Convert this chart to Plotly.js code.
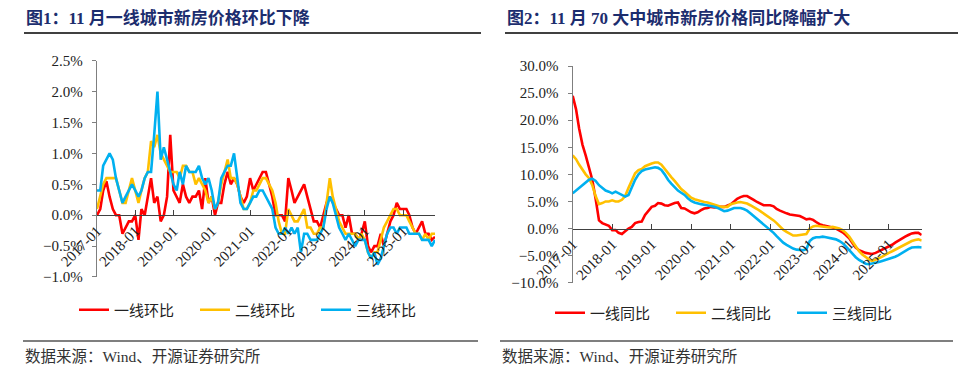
<!DOCTYPE html>
<html>
<head>
<meta charset="utf-8">
<script src="https://cdn.plot.ly/plotly-3.0.1.min.js"></script>
<style>html,body{margin:0;padding:0;background:#fff;}#chart{width:969px;height:387px;}</style>
</head>
<body>
<div id="chart"></div>
<script>
// ---------- data ----------
const startYear = 2017;
const nMonths = 107; // 2017-01 .. 2025-11
const yearTickVals = ['2017-01-01','2018-01-01','2019-01-01','2020-01-01','2021-01-01','2022-01-01','2023-01-01','2024-01-01','2025-01-01'];
const yearTickText = ['2017-01','2018-01','2019-01','2020-01','2021-01','2022-01','2023-01','2024-01','2025-01'];

const seriesNamesMoM = ['一线环比','二线环比','三线环比'];
const seriesNamesYoY = ['一线同比','二线同比','三线同比'];

// month-on-month, %
const tier1MoM = [0.0,0.1,0.4,0.55,0.3,0.1,0.0,0.0,-0.3,-0.2,
  -0.1,-0.1,0.0,-0.4,0.1,0.0,0.3,0.6,0.2,0.3,
  -0.1,0.0,0.3,1.3,0.4,0.3,0.2,0.5,0.3,0.2,
  0.3,0.3,0.4,0.1,0.6,0.2,0.3,0.0,0.2,0.2,
  0.5,0.7,0.5,0.6,0.5,0.3,0.2,0.3,0.6,0.4,
  0.5,0.6,0.7,0.7,0.5,0.3,0.0,0.0,0.0,-0.1,
  0.6,0.4,0.2,0.3,0.4,0.5,0.3,0.1,-0.1,-0.1,
  -0.2,0.0,0.2,0.3,0.2,0.1,0.0,0.0,-0.2,0.0,
  -0.3,-0.3,-0.4,-0.3,-0.1,-0.5,-0.6,-0.5,-0.5,-0.3,
  -0.5,-0.3,-0.1,0.0,0.2,0.1,0.1,0.1,0.0,-0.2,
  -0.3,-0.2,-0.1,-0.3,-0.3,-0.4,-0.35];
const tier2MoM = [0.1,0.3,0.5,0.6,0.6,0.6,0.6,0.4,0.2,0.2,
  0.4,0.6,0.4,0.2,0.4,0.6,0.7,1.2,1.1,1.3,
  1.0,0.9,0.8,0.7,0.7,0.7,0.6,0.8,0.8,0.7,
  0.7,0.5,0.6,0.5,0.4,0.2,0.3,0.1,0.2,0.5,
  0.7,0.9,0.6,0.6,0.5,0.3,0.1,0.1,0.2,0.4,
  0.4,0.5,0.6,0.6,0.5,0.4,0.2,-0.1,-0.3,-0.3,
  0.1,0.0,-0.1,-0.1,0.0,0.1,-0.2,-0.2,-0.3,-0.3,
  -0.2,-0.2,0.2,0.6,0.3,0.1,-0.1,-0.2,-0.3,-0.3,
  -0.3,-0.3,-0.4,-0.3,-0.4,-0.6,-0.7,-0.6,-0.6,-0.4,
  -0.2,-0.1,0.0,0.1,0.1,0.0,0.0,0.0,-0.1,-0.2,
  -0.3,-0.3,-0.4,-0.3,-0.4,-0.3,-0.3];
const tier3MoM = [0.4,0.4,0.8,0.9,1.0,0.9,0.6,0.4,0.2,0.3,
  0.4,0.5,0.4,0.3,0.4,0.6,0.7,0.7,1.3,2.0,
  0.9,1.1,0.9,0.7,0.5,0.4,0.7,0.5,0.8,0.7,
  0.7,0.7,0.8,0.6,0.5,0.6,0.4,0.1,0.2,0.6,
  0.7,0.8,0.8,1.0,0.6,0.2,0.1,0.1,0.2,0.3,
  0.3,0.4,0.4,0.3,0.2,0.1,-0.2,-0.3,-0.3,-0.2,
  -0.3,-0.2,-0.3,-0.2,-0.6,-0.3,-0.3,-0.4,-0.4,-0.4,
  -0.3,-0.2,0.1,0.3,0.2,0.0,-0.2,-0.3,-0.4,-0.3,
  -0.4,-0.5,-0.4,-0.4,-0.4,-0.6,-0.7,-0.6,-0.8,-0.7,
  -0.5,-0.3,-0.2,-0.2,-0.3,-0.2,-0.2,-0.2,-0.3,-0.3,
  -0.3,-0.3,-0.4,-0.4,-0.4,-0.5,-0.4];

// year-on-year, %
const tier1YoY = [24.5,22.0,18.5,15.5,13.5,11.0,9.0,5.5,1.5,1.0,
  0.7,0.5,-0.3,-0.3,-0.8,-1.0,-0.5,0.0,0.3,1.0,
  1.2,1.3,2.5,3.2,4.0,4.2,4.7,4.6,4.3,4.2,
  4.5,4.7,4.8,3.8,3.7,3.3,3.0,2.8,3.0,3.4,
  3.7,3.8,4.0,3.9,4.0,4.0,4.0,4.2,4.5,5.0,
  5.5,5.8,6.0,6.0,5.7,5.3,4.9,4.6,4.3,4.3,
  4.3,4.1,3.6,3.3,3.0,2.8,2.6,2.5,2.5,2.3,
  2.0,1.7,1.8,1.6,1.2,0.8,0.6,0.5,0.3,0.2,
  0.0,-0.3,-0.7,-1.2,-1.8,-2.7,-3.5,-4.0,-4.3,-4.5,
  -4.6,-4.7,-4.5,-4.2,-4.0,-3.6,-3.3,-3.0,-2.6,-2.2,
  -1.8,-1.5,-1.2,-0.9,-0.8,-0.8,-1.2];
const tier2YoY = [13.5,12.8,11.8,10.8,10.0,9.3,8.0,6.0,4.5,4.7,
  5.0,5.0,5.2,5.0,5.0,5.3,6.0,7.5,9.0,10.2,
  10.8,11.0,11.5,11.8,12.0,12.2,12.2,11.8,11.0,10.2,
  9.5,8.8,8.0,7.3,6.8,6.2,5.7,5.4,5.2,5.0,
  4.9,4.8,4.6,4.4,4.2,4.0,4.0,4.0,4.5,4.7,
  4.8,4.9,4.8,4.6,4.3,4.0,3.6,3.2,2.8,2.4,
  2.0,1.5,1.0,0.3,-0.2,-0.6,-1.0,-1.3,-1.3,-1.2,
  -1.1,-1.0,0.0,0.4,0.5,0.4,0.3,0.2,0.2,0.3,
  0.2,0.0,-0.3,-0.8,-1.5,-2.5,-3.3,-4.2,-4.8,-5.3,
  -5.7,-6.0,-5.8,-5.5,-5.2,-4.8,-4.5,-4.2,-3.9,-3.6,
  -3.2,-2.9,-2.6,-2.3,-2.1,-2.0,-2.2];
const tier3YoY = [6.5,7.0,7.5,8.0,8.5,9.0,9.2,8.8,8.0,7.5,
  7.0,6.8,6.5,6.8,6.5,6.2,5.9,6.2,7.5,9.0,
  10.0,10.6,10.9,11.0,11.2,11.3,11.2,10.8,10.0,9.0,
  8.3,7.6,7.0,6.6,6.2,5.6,5.1,4.8,4.6,4.5,
  4.4,4.3,4.2,4.0,3.8,3.5,3.2,3.3,3.6,3.8,
  3.8,3.8,3.6,3.3,2.8,2.3,1.8,1.3,0.8,0.3,
  -0.3,-0.8,-1.4,-2.0,-2.6,-3.0,-3.4,-3.7,-3.9,-4.0,
  -4.0,-3.8,-2.3,-1.8,-1.6,-1.6,-1.5,-1.6,-1.7,-1.8,
  -2.0,-2.3,-2.7,-3.3,-4.0,-4.7,-5.3,-5.8,-6.2,-6.5,
  -6.6,-6.5,-6.4,-6.2,-6.0,-5.8,-5.7,-5.5,-5.2,-4.9,
  -4.5,-4.1,-3.8,-3.5,-3.4,-3.4,-3.5];

const months = [];
for (let i = 0; i < nMonths; i++) {
  const y = startYear + Math.floor(i / 12), m = (i % 12) + 1;
  months.push(y + '-' + String(m).padStart(2, '0') + '-01');
}

// ---------- style / layout ----------
const W = 969, H = 387;
const colors = ['#FF0000', '#FFC000', '#00B0F0'];
const serif = '"Liberation Serif", "Times New Roman", serif';
const cjk = '"Liberation Serif", "Noto Sans CJK SC", serif';

const dom1 = {x: [97 / W, 435 / W], y: [(H - 277) / H, (H - 60.7) / H]};
const dom2 = {x: [572.7 / W, 921.7 / W], y: [(H - 282.7) / H, (H - 66) / H]};
const yr1 = [-1.0, 2.5], yr2 = [-10, 30];
const zeroPos = (d, r) => d.y[0] + (0 - r[0]) / (r[1] - r[0]) * (d.y[1] - d.y[0]);

const mom = [tier1MoM, tier2MoM, tier3MoM];
const yoy = [tier1YoY, tier2YoY, tier3YoY];
const traces = [];
mom.forEach((v, k) => traces.push({
  x: months, y: v, type: 'scatter', mode: 'lines', name: seriesNamesMoM[k],
  line: {color: colors[k], width: 2.6}, xaxis: 'x', yaxis: 'y', legend: 'legend'
}));
yoy.forEach((v, k) => traces.push({
  x: months, y: v, type: 'scatter', mode: 'lines', name: seriesNamesYoY[k],
  line: {color: colors[k], width: 2.6}, xaxis: 'x2', yaxis: 'y2', legend: 'legend2'
}));

const xCommon = {
  type: 'date', range: [months[0], months[nMonths - 1]], anchor: 'free',
  tickmode: 'array', tickvals: yearTickVals, ticktext: yearTickText, tickangle: -45,
  ticks: 'inside', ticklen: 5, tickcolor: '#404040', showline: true, linecolor: '#404040', linewidth: 1.2,
  showgrid: false, zeroline: false, tickfont: {family: serif, size: 15, color: '#222'}
};
const yCommon = {
  ticks: 'outside', ticklen: 4, tickcolor: '#7f7f7f', showline: true, linecolor: '#7f7f7f', linewidth: 1.2,
  showgrid: false, zeroline: false, tickformat: '.1f', ticksuffix: '%', tick0: 0,
  tickfont: {family: serif, size: 15, color: '#222'}, ticklabelstandoff: 6
};

const legendCommon = {
  orientation: 'h', xanchor: 'left', yanchor: 'middle', bgcolor: 'rgba(0,0,0,0)',
  font: {family: '"Noto Sans CJK SC", sans-serif', size: 15, color: '#222'},
  entrywidth: 76, entrywidthmode: 'pixels', itemwidth: 30, traceorder: 'normal'
};

const layout = {
  width: W, height: H, margin: {l: 0, r: 0, t: 0, b: 0},
  paper_bgcolor: '#fff', plot_bgcolor: 'rgba(0,0,0,0)', showlegend: true,
  xaxis: Object.assign({}, xCommon, {domain: dom1.x, position: zeroPos(dom1, yr1)}),
  yaxis: Object.assign({}, yCommon, {domain: dom1.y, anchor: 'x', range: [yr1[0] - 0.0001, yr1[1] + 0.0001], dtick: 0.5}),
  xaxis2: Object.assign({}, xCommon, {domain: dom2.x, position: zeroPos(dom2, yr2)}),
  yaxis2: Object.assign({}, yCommon, {domain: dom2.y, anchor: 'x2', range: [yr2[0] - 0.001, yr2[1] + 0.001], dtick: 5}),
  legend: Object.assign({}, legendCommon, {x: 74 / W, y: 1 - 310 / H}),
  legend2: Object.assign({}, legendCommon, {x: 550 / W, y: 1 - 313 / H}),
  annotations: [
    {text: '图1：11 月一线城市新房价格环比下降', xref: 'paper', yref: 'paper', x: 24 / W, y: 1 - 18 / H,
     xanchor: 'left', yanchor: 'middle', showarrow: false,
     font: {family: cjk, size: 17, color: '#1c2d6e', weight: 'bold'}},
    {text: '图2：11 月 70 大中城市新房价格同比降幅扩大', xref: 'paper', yref: 'paper', x: 505 / W, y: 1 - 18 / H,
     xanchor: 'left', yanchor: 'middle', showarrow: false,
     font: {family: cjk, size: 17, color: '#1c2d6e', weight: 'bold'}},
    {text: '数据来源：Wind、开源证券研究所', xref: 'paper', yref: 'paper', x: 23 / W, y: 1 - 356 / H,
     xanchor: 'left', yanchor: 'middle', showarrow: false,
     font: {family: cjk, size: 15.5, color: '#333'}},
    {text: '数据来源：Wind、开源证券研究所', xref: 'paper', yref: 'paper', x: 500 / W, y: 1 - 356 / H,
     xanchor: 'left', yanchor: 'middle', showarrow: false,
     font: {family: cjk, size: 15.5, color: '#333'}}
  ],
  shapes: [
    {type: 'line', xref: 'paper', yref: 'paper', x0: 24 / W, x1: 481 / W, y0: 1 - 33 / H, y1: 1 - 33 / H, line: {color: '#000', width: 1.5}},
    {type: 'line', xref: 'paper', yref: 'paper', x0: 505 / W, x1: 958 / W, y0: 1 - 33 / H, y1: 1 - 33 / H, line: {color: '#000', width: 1.5}},
    {type: 'line', xref: 'paper', yref: 'paper', x0: 23 / W, x1: 478 / W, y0: 1 - 341 / H, y1: 1 - 341 / H, line: {color: '#000', width: 1.2}},
    {type: 'line', xref: 'paper', yref: 'paper', x0: 500 / W, x1: 953 / W, y0: 1 - 341 / H, y1: 1 - 341 / H, line: {color: '#000', width: 1.2}}
  ]
};

Plotly.newPlot('chart', traces, layout, {staticPlot: true, displayModeBar: false});
</script>
</body>
</html>
